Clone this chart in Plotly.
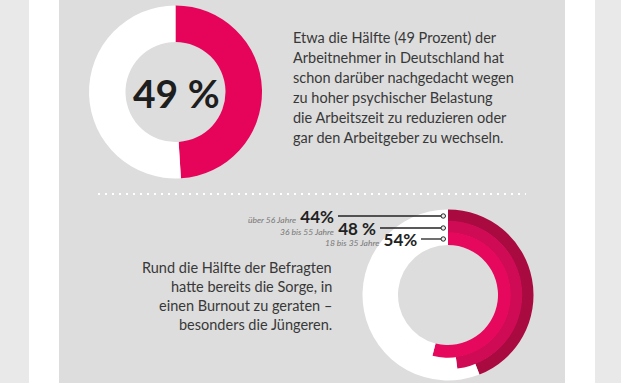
import plotly.graph_objects as go

W, H = 621, 383

# ---- data ----
main_value = 49
main_label = "49 %"
main_text = [
    "Etwa die Hälfte (49 Prozent) der",
    "Arbeitnehmer in Deutschland hat",
    "schon darüber nachgedacht wegen",
    "zu hoher psychischer Belastung",
    "die Arbeitszeit zu reduzieren oder",
    "gar den Arbeitgeber zu wechseln.",
]
age_groups = ["über 56 Jahre", "36 bis 55 Jahre", "18 bis 35 Jahre"]
age_values = [44, 48, 54]
age_labels = ["44%", "48 %", "54%"]
ring_colors = ["#a90a40", "#cf0b55", "#e6085c"]
burnout_text = [
    "Rund die Hälfte der Befragten",
    "hatte bereits die Sorge, in",
    "einen Burnout zu geraten –",
    "besonders die Jüngeren.",
]

PINK = "#e6045b"
PANEL = "#dddddd"
OUTER = "#e9e9e9"
FONT = "Lato"


def X(x):
    return x / W


def Y(y):
    return 1 - y / H


def dom(cx, cy, r):
    return dict(x=[X(cx - r), X(cx + r)], y=[Y(cy + r), Y(cy - r)])


fig = go.Figure()

# top donut
fig.add_trace(go.Pie(
    values=[main_value, 100 - main_value],
    marker=dict(colors=[PINK, "#ffffff"], line=dict(width=0)),
    hole=50 / 86.5, sort=False, direction="clockwise", rotation=0,
    textinfo="none", hoverinfo="skip", showlegend=False,
    domain=dom(175.5, 92, 86.5),
))

# bottom multi-ring donut (inner rings overlap slightly to hide seams)
cx2, cy2 = 448, 295
radii = [85.5, 74.2, 62.7]
inner = [73.5, 62.0, 50.0]
for v, c, r, ri in zip(age_values, ring_colors, radii, inner):
    fig.add_trace(go.Pie(
        values=[v, 100 - v],
        marker=dict(colors=[c, "#ffffff"], line=dict(width=0)),
        hole=ri / r, sort=False, direction="clockwise", rotation=0,
        textinfo="none", hoverinfo="skip", showlegend=False,
        domain=dom(cx2, cy2, r),
    ))

shapes = [
    dict(type="rect", xref="paper", yref="paper", x0=0, x1=1, y0=0, y1=1,
         fillcolor=OUTER, line=dict(width=0), layer="below"),
    dict(type="rect", xref="paper", yref="paper", x0=X(29), x1=X(595), y0=0, y1=1,
         fillcolor="#ffffff", line=dict(width=0), layer="below"),
    dict(type="rect", xref="paper", yref="paper", x0=X(59), x1=X(565), y0=0, y1=1,
         fillcolor=PANEL, line=dict(width=0), layer="below"),
    dict(type="line", xref="paper", yref="paper", x0=X(98), x1=X(526), y0=Y(194), y1=Y(194),
         line=dict(color="#ffffff", width=2, dash="2px,5px")),
]

annotations = [
    dict(text="<b>%s</b>" % main_label, x=X(176), y=Y(93), xref="paper", yref="paper",
         showarrow=False, xanchor="center", yanchor="middle",
         font=dict(family=FONT, size=39, color="#1e1e1e")),
]
for i, line in enumerate(main_text):
    annotations.append(dict(text=line, x=X(291), y=Y(37 + 20.1 * i), xref="paper", yref="paper",
                            showarrow=False, xanchor="left", yanchor="middle",
                            font=dict(family=FONT, size=14.5, color="#383838")))
for i, line in enumerate(burnout_text):
    annotations.append(dict(text=line, x=X(334), y=Y(267 + 19.3 * i), xref="paper", yref="paper",
                            showarrow=False, xanchor="right", yanchor="middle",
                            font=dict(family=FONT, size=14.5, color="#383838")))

label_y = [216, 228, 239]
label_end = [336, 378, 419]
for g, lab, ly, le in zip(age_groups, age_labels, label_y, label_end):
    annotations.append(dict(
        text="<i><span style='font-size:8.5px;color:#777'>%s</span></i> <b>%s</b>" % (g, lab),
        x=X(le), y=Y(ly), xref="paper", yref="paper", showarrow=False,
        xanchor="right", yanchor="middle",
        font=dict(family=FONT, size=17, color="#222222")))
    shapes.append(dict(type="line", xref="paper", yref="paper", x0=X(le + 2), x1=X(441),
                       y0=Y(ly), y1=Y(ly), line=dict(color="#222222", width=1.3)))
    shapes.append(dict(type="circle", xref="paper", yref="paper", x0=X(441), x1=X(445.5),
                       y0=Y(ly + 2.2), y1=Y(ly - 2.2), fillcolor="#eeeeee",
                       line=dict(color="#222222", width=1)))

fig.update_layout(
    width=W, height=H, margin=dict(l=0, r=0, t=0, b=0),
    paper_bgcolor=PANEL, plot_bgcolor=PANEL,
    shapes=shapes, annotations=annotations,
    xaxis=dict(visible=False), yaxis=dict(visible=False),
)

fig.write_html("out.html", config={"displayModeBar": False},
               post_script="document.body.style.margin='0';document.body.style.overflow='hidden';")
